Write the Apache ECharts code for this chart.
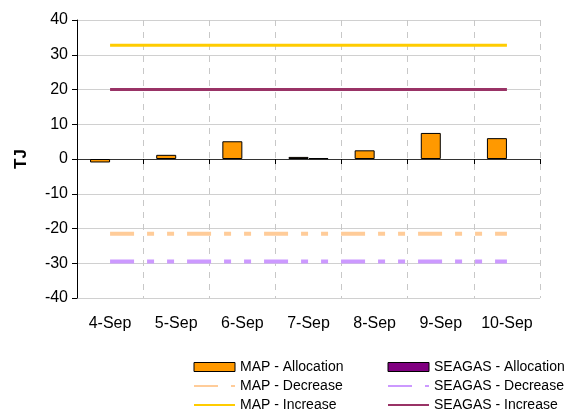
<!DOCTYPE html>
<html><head><meta charset="utf-8">
<script src="https://cdn.jsdelivr.net/npm/echarts@6/dist/echarts.min.js"></script>
<style>html,body{margin:0;padding:0;background:#fff}#c{width:570px;height:414px}</style>
</head><body><div id="c"></div>
<script>
const categories = ['4-Sep','5-Sep','6-Sep','7-Sep','8-Sep','9-Sep','10-Sep'];
const mapAllocation = [-1.0, 1.2, 5.1, 0.6, 2.5, 7.5, 6.0];
const seagasAllocation = [null, null, null, 0.25, null, null, null];
const mapDecrease = [-21.5, -21.5, -21.5, -21.5, -21.5, -21.5, -21.5];
const seagasDecrease = [-29.5, -29.5, -29.5, -29.5, -29.5, -29.5, -29.5];
const mapIncrease = [32.7, 32.7, 32.7, 32.7, 32.7, 32.7, 32.7];
const seagasIncrease = [20, 20, 20, 20, 20, 20, 20];
const yTicks = {min: -40, max: 40, interval: 10};

const FONT = 'Liberation Sans, Arial, sans-serif';
const dashPattern = [24, 13, 7, 13, 7, 13];
const chart = echarts.init(document.getElementById('c'));
const legendCommon = {
  orient: 'vertical', padding: 0, itemWidth: 41, itemHeight: 9, itemGap: 5,
  textStyle: {fontFamily: FONT, fontSize: 14, color: '#000'}, selectedMode: false
};
const noSym = {opacity: 0};
chart.setOption({
  animation: false,
  grid: {left: 77, right: 30, top: 20, bottom: 116},
  legend: [
    Object.assign({left: 193, top: 360, data: [
      {name: 'MAP - Allocation', icon: 'rect', itemStyle: {borderWidth: 1}},
      {name: 'MAP - Decrease', itemStyle: noSym},
      {name: 'MAP - Increase', itemStyle: noSym}]}, legendCommon),
    Object.assign({left: 387, top: 360, data: [
      {name: 'SEAGAS - Allocation', icon: 'rect', itemStyle: {borderWidth: 1}},
      {name: 'SEAGAS - Decrease', itemStyle: noSym},
      {name: 'SEAGAS - Increase', itemStyle: noSym}]}, legendCommon)
  ],
  xAxis: [{
    type: 'category', data: categories, position: 'bottom',
    axisLine: {show: false, onZero: false}, axisTick: {show: false},
    axisLabel: {fontFamily: FONT, fontSize: 16, color: '#000', margin: 18, interval: 0},
    splitLine: {show: true, interval: 0, lineStyle: {color: '#c8c8c8', type: [6, 6], width: 1}}
  }, {
    type: 'category', data: categories, position: 'bottom',
    axisLine: {show: true, onZero: true, lineStyle: {color: '#333', width: 1}},
    axisTick: {show: true, interval: 0, inside: false, length: 5, lineStyle: {color: '#000', width: 1}},
    axisLabel: {show: true, interval: 0, color: 'rgba(0,0,0,0)', fontSize: 1, formatter: function () { return ' '; }},
    splitLine: {show: false}
  }],
  yAxis: {
    type: 'value', min: yTicks.min, max: yTicks.max, interval: yTicks.interval,
    name: 'TJ', nameLocation: 'middle', nameGap: 47, nameRotate: 90,
    nameTextStyle: {fontFamily: FONT, fontSize: 17, fontWeight: 'bold', color: '#000'},
    axisLine: {show: true, onZero: false, lineStyle: {color: '#000', width: 1}},
    axisTick: {show: true, length: 5, lineStyle: {color: '#000'}},
    axisLabel: {fontFamily: FONT, fontSize: 16, color: '#000', margin: 9},
    splitLine: {show: true, lineStyle: {color: '#d0d0d0', width: 1}}
  },
  series: [
    {name: 'MAP - Allocation', type: 'bar', data: mapAllocation, barWidth: 20, barGap: '0%',
     itemStyle: {color: '#FF9900', borderColor: '#000', borderWidth: 1}},
    {name: 'SEAGAS - Allocation', type: 'bar', data: seagasAllocation, barWidth: 20, barGap: '0%',
     itemStyle: {color: '#800080', borderColor: '#000', borderWidth: 1}},
    {name: 'MAP - Decrease', type: 'line', data: mapDecrease, symbol: 'none',
     lineStyle: {color: '#FFCC99', width: 4, type: dashPattern, cap: 'butt'}, itemStyle: {color: '#FFCC99'}},
    {name: 'SEAGAS - Decrease', type: 'line', data: seagasDecrease, symbol: 'none',
     lineStyle: {color: '#CC99FF', width: 4, type: dashPattern, cap: 'butt'}, itemStyle: {color: '#CC99FF'}},
    {name: 'MAP - Increase', type: 'line', data: mapIncrease, symbol: 'none',
     lineStyle: {color: '#FFCC00', width: 3}, itemStyle: {color: '#FFCC00'}},
    {name: 'SEAGAS - Increase', type: 'line', data: seagasIncrease, symbol: 'none',
     lineStyle: {color: '#993366', width: 3}, itemStyle: {color: '#993366'}}
  ]
});
</script></body></html>
